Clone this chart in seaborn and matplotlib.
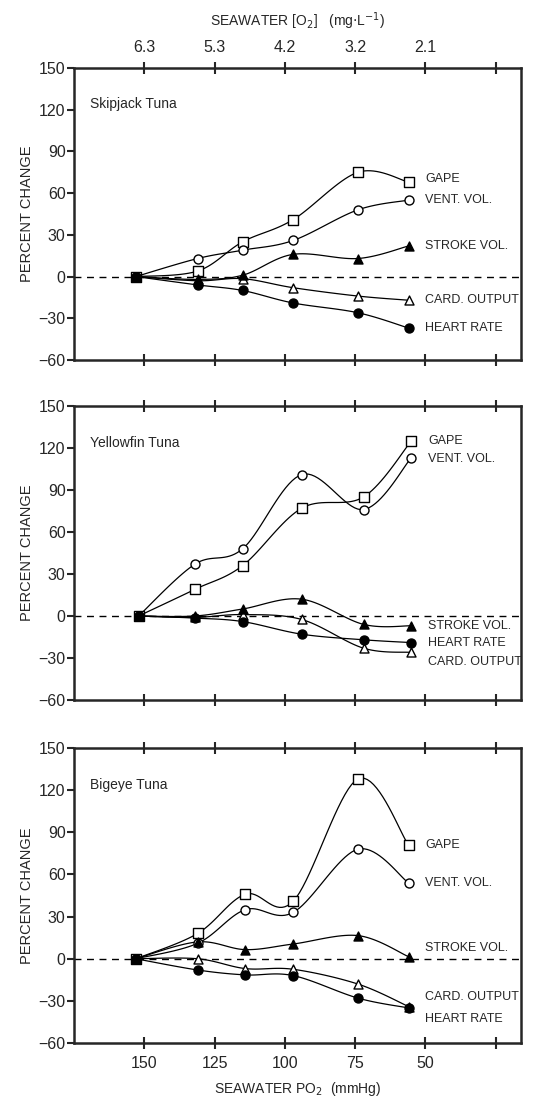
"""
Percent change in cardio-respiratory variables of three tuna species
as seawater PO2 drops.
"""
import numpy as np
import pandas as pd
import seaborn as sns
import matplotlib.pyplot as plt

sns.set_style('ticks')
plt.rcParams['font.family'] = ['Liberation Sans', 'DejaVu Sans']

# Seawater PO2 (mmHg) at each measurement, per species
po2_skipjack = [153, 131, 115, 97, 74, 56]
po2_yellowfin = [152, 132, 115, 94, 72, 55]
po2_bigeye = [153, 131, 114, 97, 74, 56]

# Percent change
skipjack = {
    'GAPE': [0, 4, 25, 41, 75, 68],
    'VENT. VOL.': [0, 13, 19, 26, 48, 55],
    'STROKE VOL.': [0, -2, 1, 16, 13, 22],
    'CARD. OUTPUT': [0, -3, -1.5, -8, -14, -17],
    'HEART RATE': [0, -6, -10, -19, -26, -37],
}
yellowfin = {
    'GAPE': [0, 19, 36, 77, 85, 125],
    'VENT. VOL.': [0, 37, 48, 101, 76, 113],
    'STROKE VOL.': [0, 0, 5, 12, -6, -7],
    'CARD. OUTPUT': [0, -1, 1, -2.5, -23, -26],
    'HEART RATE': [0, -1.5, -4, -13, -17, -19],
}
bigeye = {
    'GAPE': [0, 18, 46, 41, 128, 81],
    'VENT. VOL.': [0, 11, 35, 33, 78, 54],
    'STROKE VOL.': [0, 12, 6.5, 10.5, 16.5, 1.5],
    'CARD. OUTPUT': [0, 0, -7, -7.5, -18, -34],
    'HEART RATE': [0, -8, -11.5, -12, -28, -35],
}

species = ['Skipjack Tuna', 'Yellowfin Tuna', 'Bigeye Tuna']

# label y positions on the right (data units) per panel
label_y = {
    'Skipjack Tuna': {'GAPE': 70, 'VENT. VOL.': 55, 'STROKE VOL.': 22,
                      'CARD. OUTPUT': -17, 'HEART RATE': -37},
    'Yellowfin Tuna': {'GAPE': 125, 'VENT. VOL.': 112, 'STROKE VOL.': -7,
                       'HEART RATE': -19, 'CARD. OUTPUT': -33},
    'Bigeye Tuna': {'GAPE': 81, 'VENT. VOL.': 54, 'STROKE VOL.': 8,
                    'CARD. OUTPUT': -27, 'HEART RATE': -43},
}

o2_ticks = [150, 125, 100, 75, 50, 25]
o2_labels = ['6.3', '5.3', '4.2', '3.2', '2.1', '']
po2_labels = ['150', '125', '100', '75', '50', '']

# marker style per variable: (marker, face)
styles = {
    'GAPE': ('s', 'white'),
    'VENT. VOL.': ('o', 'white'),
    'STROKE VOL.': ('^', 'black'),
    'CARD. OUTPUT': ('^', 'white'),
    'HEART RATE': ('o', 'black'),
}

rows = []
for sp, xs, d in zip(species, [po2_skipjack, po2_yellowfin, po2_bigeye],
                     [skipjack, yellowfin, bigeye]):
    for var, ys in d.items():
        for x, y in zip(xs, ys):
            rows.append({'species': sp, 'variable': var, 'po2': x, 'change': y})
df = pd.DataFrame(rows)


def smooth(x, y, n=20):
    # Catmull-Rom curve through the points, only for drawing the line
    p = np.column_stack([x, y]).astype(float)
    pts = np.vstack([p[0], p, p[-1]])
    out = []
    t = np.linspace(0, 1, n)[:, None]
    for i in range(1, len(pts) - 2):
        p0, p1, p2, p3 = pts[i - 1], pts[i], pts[i + 1], pts[i + 2]
        m1 = (p2 - p0) / 2
        m2 = (p3 - p1) / 2
        h00 = 2 * t**3 - 3 * t**2 + 1
        h10 = t**3 - 2 * t**2 + t
        h01 = -2 * t**3 + 3 * t**2
        h11 = t**3 - t**2
        out.append(h00 * p1 + h10 * m1 + h01 * p2 + h11 * m2)
    c = np.vstack(out)
    return c[:, 0], c[:, 1]


fig = plt.figure(figsize=(5.42, 11.02), dpi=100)
bottoms = [0.6733, 0.3648, 0.0535]
heights = [0.265, 0.2668, 0.2677]

for k, sp in enumerate(species):
    ax = fig.add_axes([0.1365, bottoms[k], 0.8247, heights[k]])
    sub = df[df.species == sp]

    ax.axhline(0, color='black', lw=1.0, ls=(0, (5, 4)), zorder=1)

    for var, (mk, face) in styles.items():
        s = sub[sub.variable == var]
        sx, sy = smooth(s.po2.values, s.change.values)
        ax.plot(sx, sy, color='black', lw=0.9, zorder=2)
        sns.scatterplot(x=s.po2, y=s.change, marker=mk, s=42, color=face,
                        edgecolor='black', linewidth=1.0, ax=ax, zorder=4 if face == 'black' else 3,
                        legend=False)
        xl = s.po2.values[-1] - 6
        ax.text(xl, label_y[sp][var], var, fontsize=9, va='center', ha='left')

    ax.text(0.036, 0.875, sp, transform=ax.transAxes, fontsize=10, va='center')

    ax.set_xlim(175, 16)
    ax.set_ylim(-60, 150)
    ax.set_yticks(range(-60, 151, 30))
    ax.set_xticks(o2_ticks)
    ax.set_ylabel('PERCENT CHANGE', fontsize=10.5, labelpad=3)
    ax.set_xlabel('')
    for side in ['top', 'bottom', 'left', 'right']:
        ax.spines[side].set_visible(True)
        ax.spines[side].set_linewidth(1.8)
    ax.tick_params(axis='y', direction='out', length=5, width=1.5, labelsize=11.5, pad=1)
    ax.tick_params(axis='x', direction='inout', length=9, width=1.5, labelsize=11.5,
                   top=True, bottom=True, labelbottom=False, labeltop=False)

    if k == 0:
        ax.tick_params(axis='x', labeltop=True, pad=5)
        ax.set_xticklabels(o2_labels)
        ax.text(0.5, 1.16, r'SEAWATER [O$_2$]   (mg$\cdot$L$^{-1}$)',
                transform=ax.transAxes, ha='center', va='center', fontsize=10)
    if k == 2:
        ax.tick_params(axis='x', labelbottom=True, pad=5)
        ax.set_xticklabels(po2_labels)
        ax.set_xlabel(r'SEAWATER PO$_2$  (mmHg)', fontsize=10, labelpad=6)

fig.savefig('out.png', dpi=100)
